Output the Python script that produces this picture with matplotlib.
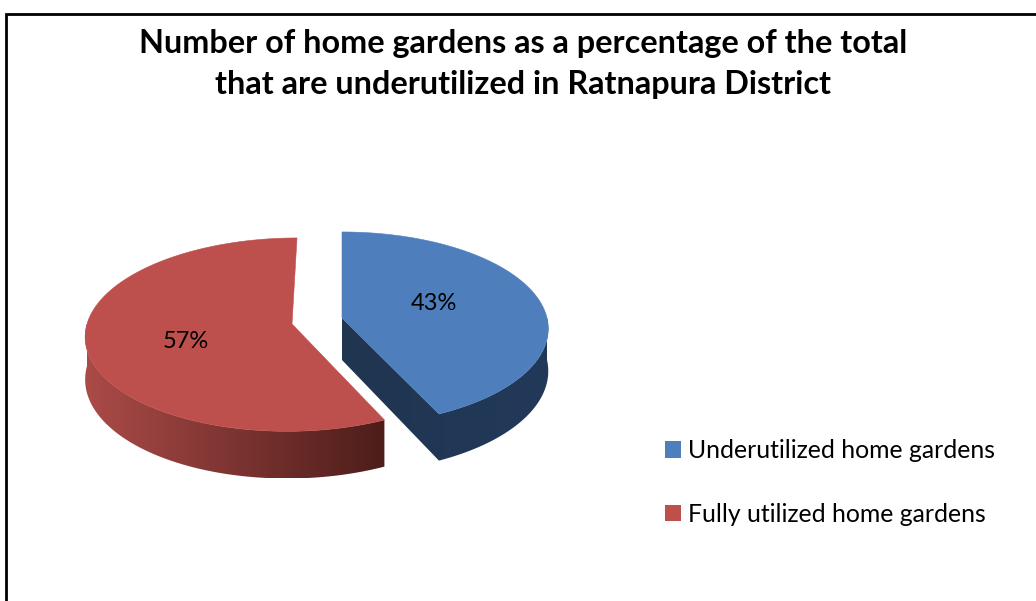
import numpy as np
from matplotlib import pyplot as plt
from matplotlib.colors import LinearSegmentedColormap
from matplotlib.patches import Patch, Polygon

title = 'Number of home gardens as a percentage of the total\nthat are underutilized in Ratnapura District'
categories = ['Underutilized home gardens', 'Fully utilized home gardens']
shares = [43, 57]
top_colors = ['#4e7fbc', '#bd4f4c']
side_colors = [['#1f3550', '#22395a'], ['#ab4b48', '#4d1d1a']]

plt.rcParams['font.family'] = ['Lato', 'DejaVu Sans']

# Размеры "диска" в пикселях
RY, PERSP, DEPTH = 95.5, 0.11, 42
rxs = [205, 205]
centers = [(342, 318), (292, 324)]
leans = [0, 5]
label_pos = [(434, 304), (186, 341)]


def project(theta, radius, i, drop=0):
    # Перспектива: передний край диска крупнее заднего
    x = radius * np.sin(theta)
    y = radius * np.cos(theta)
    s = 1 / (1 + PERSP * y)
    return (centers[i][0] + rxs[i] * x * s + leans[i] * y,
            centers[i][1] - RY * y * s + drop * s)


def rim(start, end, i, drop=0):
    xs, ys = project(np.radians(np.linspace(start, end, 200)), 1, i, drop)
    return np.column_stack([xs, ys])


def apex(i, drop=0):
    xs, ys = project(np.array([0.0]), 0, i, drop)
    return np.column_stack([xs, ys])


fig = plt.figure(figsize=(10.36, 6.01), dpi=100)
ax = fig.add_axes([0, 0, 1, 1])
ax.set_xlim(0, 1036)
ax.set_ylim(601, 0)
ax.axis('off')

# Рамка без правой и нижней стороны
ax.plot([6, 6, 1036], [601, 14, 14], color='black', lw=2, solid_joinstyle='miter')

ax.text(523, 64, title, ha='center', va='center', fontsize=23.35, fontweight='bold',
        linespacing=1.47, color='black')

# Углы секторов считаем из долей
angles = np.cumsum([0] + shares) / sum(shares) * 360
for i in range(len(shares)):
    start, end = angles[i], angles[i + 1]

    # Боковая стенка: видна только передняя дуга, у синего сектора ещё и срез
    front_a, front_b = max(start, 90), min(end, 270)
    if end <= 180:
        band = np.vstack([apex(i), rim(front_b, front_a, i), rim(front_a, front_b, i, DEPTH), apex(i, DEPTH)])
    else:
        band = np.vstack([rim(front_a, front_b, i), rim(front_b, front_a, i, DEPTH)])
    side = Polygon(band, closed=True, facecolor='none', edgecolor='none', transform=ax.transData)
    ax.add_patch(side)
    cmap = LinearSegmentedColormap.from_list('side', side_colors[i])
    xmin, xmax = band[:, 0].min(), band[:, 0].max()
    ymin, ymax = band[:, 1].min(), band[:, 1].max()
    img = ax.imshow(np.linspace(0, 1, 256).reshape(1, -1), cmap=cmap, aspect='auto',
                    extent=(xmin, xmax, ymax, ymin), zorder=2)
    img.set_clip_path(side)

    top = np.vstack([apex(i), rim(start, end, i)])
    ax.add_patch(Polygon(top, closed=True, facecolor=top_colors[i], edgecolor=top_colors[i], lw=0.4, zorder=3))
    ax.text(*label_pos[i], f'{shares[i]}%', ha='center', va='center', fontsize=17, color='black', zorder=4)

# imshow сбивает пределы осей
ax.set_xlim(0, 1036)
ax.set_ylim(601, 0)

handles = [Patch(facecolor=c, edgecolor='none') for c in top_colors]
ax.legend(handles, categories, loc='upper left', bbox_to_anchor=(643, 601 - 184),
          bbox_transform=ax.transData, frameon=False, fontsize=17.8, handlelength=0.65,
          handleheight=0.65, handletextpad=0.25, labelspacing=1.63, borderpad=0.4)

plt.savefig('out.png', dpi=100)
